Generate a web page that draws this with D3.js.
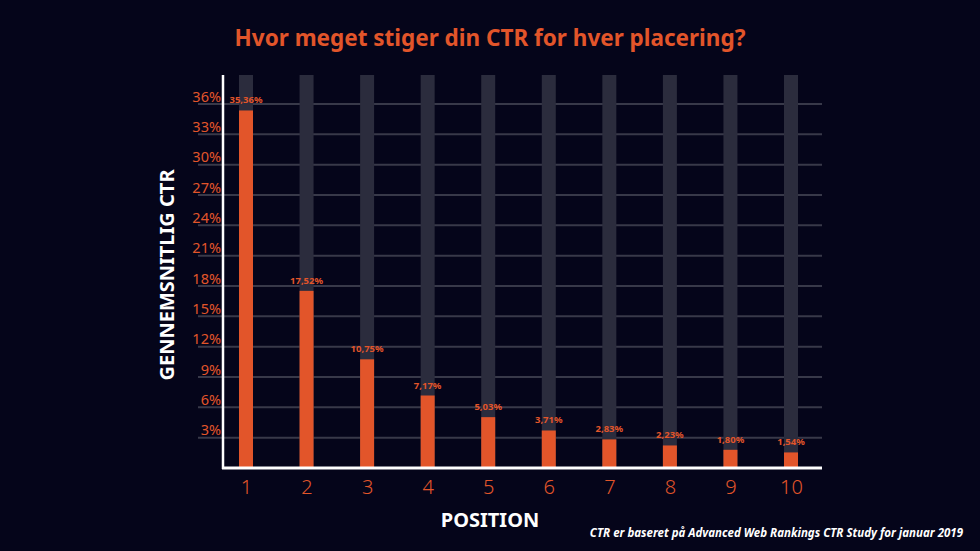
<!DOCTYPE html>
<html>
<head>
<meta charset="utf-8">
<script src="https://cdn.jsdelivr.net/npm/d3@7"></script>
<style>
  body { margin: 0; background: #05051a; }
  svg { display: block; }
</style>
</head>
<body>
<svg id="chart"></svg>
<script>
// data
const positions = [1, 2, 3, 4, 5, 6, 7, 8, 9, 10];
const ctrValues = [35.36, 17.52, 10.75, 7.17, 5.03, 3.71, 2.83, 2.23, 1.80, 1.54];
const ctrLabels = ["35,36%", "17,52%", "10,75%", "7,17%", "5,03%", "3,71%", "2,83%", "2,23%", "1,80%", "1,54%"];
const yTicks = [3, 6, 9, 12, 15, 18, 21, 24, 27, 30, 33, 36];

const W = 980, H = 551;
const orange = "#e2552a";
const font = "'Noto Sans', 'Open Sans', sans-serif";

const svg = d3.select("#chart").attr("width", W).attr("height", H);

svg.append("rect").attr("width", W).attr("height", H).attr("fill", "#05051a");

// scales
const x = d3.scalePoint().domain(positions).range([246, 791]);
const y = d3.scaleLinear().domain([0, 36]).range([468, 104]);
const barW = 14;

// grid lines
svg.append("g")
  .selectAll("line")
  .data(yTicks)
  .join("line")
  .attr("x1", 198).attr("x2", 822)
  .attr("y1", d => y(d)).attr("y2", d => y(d))
  .attr("stroke", "#383949").attr("stroke-width", 2);

// grey background columns
svg.append("g")
  .selectAll("rect")
  .data(positions)
  .join("rect")
  .attr("x", d => x(d) - barW / 2)
  .attr("y", 75)
  .attr("width", barW)
  .attr("height", y(0) - 75)
  .attr("fill", "#2b2c3d");

// value bars
svg.append("g")
  .selectAll("rect")
  .data(ctrValues)
  .join("rect")
  .attr("x", (d, i) => x(positions[i]) - barW / 2)
  .attr("y", d => y(d))
  .attr("width", barW)
  .attr("height", d => y(0) - y(d))
  .attr("fill", orange);

// value labels over bars
svg.append("g")
  .selectAll("text")
  .data(ctrValues)
  .join("text")
  .attr("x", (d, i) => x(positions[i]))
  .attr("y", d => y(d) - 7)
  .attr("text-anchor", "middle")
  .attr("fill", orange)
  .attr("font-family", font)
  .attr("font-weight", "bold")
  .attr("font-size", 9.5)
  .text((d, i) => ctrLabels[i]);

// y axis labels
const yAxis = svg.append("g")
  .attr("transform", "translate(221,0)")
  .call(d3.axisLeft(y).tickValues(yTicks).tickSize(0).tickPadding(0).tickFormat(d => d + "%"));
yAxis.select(".domain").remove();
yAxis.selectAll("text")
  .attr("fill", orange)
  .attr("font-family", font)
  .attr("font-size", 14.5)
  .attr("dy", "-0.2em");

// x axis labels
const xAxis = svg.append("g")
  .attr("transform", "translate(0,468)")
  .call(d3.axisBottom(x).tickSize(0).tickPadding(12));
xAxis.select(".domain").remove();
xAxis.selectAll("text")
  .attr("fill", orange)
  .attr("font-family", font)
  .attr("font-weight", 300)
  .attr("font-size", 20);

// axis lines
svg.append("line")
  .attr("x1", 223).attr("x2", 223).attr("y1", 75).attr("y2", 469)
  .attr("stroke", "#ffffff").attr("stroke-width", 2.5);
svg.append("line")
  .attr("x1", 222).attr("x2", 822).attr("y1", 468).attr("y2", 468)
  .attr("stroke", "#ffffff").attr("stroke-width", 3);

// title
svg.append("text")
  .attr("x", 490).attr("y", 46)
  .attr("text-anchor", "middle")
  .attr("fill", orange)
  .attr("font-family", font)
  .attr("font-weight", "bold")
  .attr("font-size", 22.5)
  .text("Hvor meget stiger din CTR for hver placering?");

// axis titles
svg.append("text")
  .attr("x", 490).attr("y", 527)
  .attr("text-anchor", "middle")
  .attr("fill", "#ffffff")
  .attr("font-family", font)
  .attr("font-weight", "bold")
  .attr("font-size", 20)
  .text("POSITION");

svg.append("text")
  .attr("transform", "translate(174,275) rotate(-90)")
  .attr("text-anchor", "middle")
  .attr("fill", "#ffffff")
  .attr("font-family", font)
  .attr("font-weight", "bold")
  .attr("font-size", 20)
  .text("GENNEMSNITLIG CTR");

// source note
svg.append("text")
  .attr("x", 963).attr("y", 537)
  .attr("text-anchor", "end")
  .attr("fill", "#ffffff")
  .attr("font-family", font)
  .attr("font-weight", "bold")
  .attr("font-style", "italic")
  .attr("font-size", 11.5)
  .text("CTR er baseret på Advanced Web Rankings CTR Study for januar 2019");
</script>
</body>
</html>
